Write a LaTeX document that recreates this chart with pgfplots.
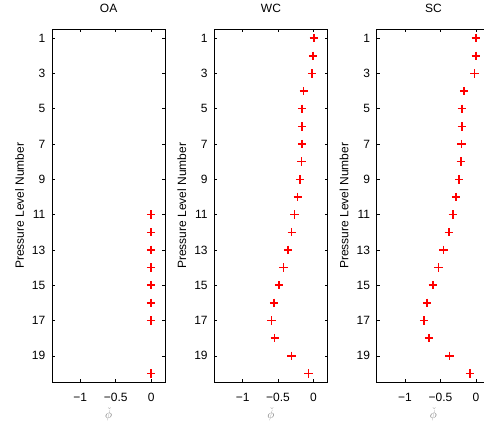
\documentclass[border=0pt]{standalone}
\usepackage{fontspec}
\setmainfont{Liberation Sans}
\usepackage{pgfplots}
\pgfplotsset{compat=1.18}
\usepackage{pgfplotstable}

% pressure level vs. phi-check, one table per panel
\pgfplotstableread{
lev phi
11 0
12 0
13 0
14 0
15 0
16 0
17 0
20 0
}\oadata
\pgfplotstableread{
lev phi
1 0.005
2 -0.005
3 -0.019
4 -0.137
5 -0.160
6 -0.160
7 -0.160
8 -0.170
9 -0.189
10 -0.222
11 -0.269
12 -0.307
13 -0.358
14 -0.425
15 -0.486
16 -0.557
17 -0.590
18 -0.547
19 -0.311
20 -0.071
}\wcdata
\pgfplotstableread{
lev phi
1 0
2 0
3 -0.019
4 -0.165
5 -0.198
6 -0.198
7 -0.203
8 -0.212
9 -0.236
10 -0.278
11 -0.325
12 -0.382
13 -0.458
14 -0.528
15 -0.608
16 -0.689
17 -0.731
18 -0.660
19 -0.373
20 -0.085
}\scdata

\pgfplotsset{
  panel/.style={
    anchor=south west,
    width=113.3bp, height=353bp, scale only axis,
    xmin=-1.4, xmax=0.2, ymin=0.5, ymax=20.5,
    y dir=reverse,
    xtick={-1,-0.5,0}, xticklabels={−1,−0.5,0},
    ytick={1,3,...,19},
    tick align=inside, major tick length=3bp,
    tick style={black, line width=0.6bp},
    axis line style={line width=0.8bp},
    font=\fontsize{12bp}{14bp}\selectfont,
    /pgf/number format/assume math mode=true,
    yticklabel style={inner sep=0pt, xshift=-6.5bp},
    xticklabel style={inner sep=0pt, yshift=-11bp},
    title style={at={(axis description cs:0.5,1.031)}, anchor=base, inner sep=0pt},
    ylabel style={at={(axis description cs:-0.287,0.5)}, anchor=center, rotate=0, inner sep=0pt},
    xlabel style={at={(axis description cs:0.5,-0.091)}, anchor=center, inner sep=0pt,
      text=gray},
    ylabel={Pressure Level Number},
    xlabel={$\check{\phi}$},
  },
  pts/.style={only marks, mark=+, mark size=4.2bp, color=red, line width=1.5bp,
    mark options={draw=red, solid}},
}

\begin{document}
\begin{tikzpicture}[x=1bp,y=1bp]
\begin{axis}[panel, at={(52bp,40.7bp)}, title={OA}]
  \addplot[pts] table[x=phi,y=lev] {\oadata};
\end{axis}
\begin{axis}[panel, at={(214.3bp,40.7bp)}, title={WC}]
  \addplot[pts] table[x=phi,y=lev] {\wcdata};
\end{axis}
\begin{axis}[panel, at={(376.7bp,40.7bp)}, title={SC}]
  \addplot[pts] table[x=phi,y=lev] {\scdata};
\end{axis}
\pgfresetboundingbox
\useasboundingbox (0,0) rectangle (484,423);
\end{tikzpicture}
\end{document}
